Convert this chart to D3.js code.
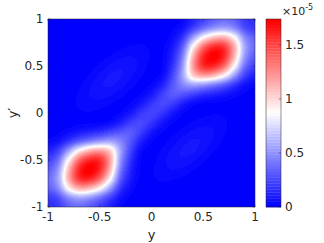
<!DOCTYPE html>
<html><head><meta charset="utf-8">
<script src="https://cdn.jsdelivr.net/npm/d3@7"></script>
<style>html,body{margin:0;padding:0;background:#fff;} svg{display:block;}</style>
</head><body>
<script>
// grid coordinates (y along columns, y' along rows)
const gridY = [-1,-0.9,-0.8,-0.7,-0.6,-0.5,-0.4,-0.3,-0.2,-0.1,0,0.1,0.2,0.3,0.4,0.5,0.6,0.7,0.8,0.9,1];
const gridYp = [-1,-0.9,-0.8,-0.7,-0.6,-0.5,-0.4,-0.3,-0.2,-0.1,0,0.1,0.2,0.3,0.4,0.5,0.6,0.7,0.8,0.9,1];
// values (x 1e-5), rows: y' = -1 ... 1, columns: y = -1 ... 1
const rho = [
[.157,.202,.331,.372,.316,.225,.122,.038,.010,.003,.002,.001,.001,0,0,0,0,0,0,0,0],
[.202,.278,.486,.580,.525,.398,.229,.075,.021,.007,.006,.006,.004,.002,.001,0,0,0,0,0,0],
[.331,.486,.902,1.146,1.105,.892,.547,.190,.053,.013,.014,.016,.012,.007,.003,.001,0,0,0,0,0],
[.372,.580,1.146,1.551,1.592,1.368,.892,.329,.094,.019,.023,.032,.031,.022,.011,.004,.001,0,0,0,0],
[.316,.525,1.105,1.592,1.74,1.592,1.112,.439,.132,.022,.025,.044,.055,.048,.030,.013,.004,.001,0,0,0],
[.225,.398,.892,1.368,1.592,1.571,1.185,.522,.171,.026,.019,.043,.068,.077,.060,.034,.013,.004,.001,0,0],
[.122,.229,.547,.892,1.112,1.185,1.022,.557,.233,.047,.016,.030,.060,.085,.086,.060,.030,.011,.003,.001,0],
[.038,.075,.190,.329,.439,.522,.557,.459,.293,.116,.032,.019,.038,.068,.085,.077,.048,.022,.007,.002,0],
[.010,.021,.053,.094,.132,.171,.233,.293,.315,.214,.093,.031,.020,.038,.060,.068,.055,.031,.012,.004,.001],
[.003,.007,.013,.019,.022,.026,.047,.116,.214,.250,.191,.090,.031,.019,.030,.043,.044,.032,.016,.006,.001],
[.002,.006,.014,.023,.025,.019,.016,.032,.093,.191,.240,.191,.093,.032,.016,.019,.025,.023,.014,.006,.002],
[.001,.006,.016,.032,.044,.043,.030,.019,.031,.090,.191,.250,.214,.116,.047,.026,.022,.019,.013,.007,.003],
[.001,.004,.012,.031,.055,.068,.060,.038,.020,.031,.093,.214,.315,.293,.233,.171,.132,.094,.053,.021,.010],
[0,.002,.007,.022,.048,.077,.085,.068,.038,.019,.032,.116,.293,.459,.557,.522,.439,.329,.190,.075,.038],
[0,.001,.003,.011,.030,.060,.086,.085,.060,.030,.016,.047,.233,.557,1.022,1.185,1.112,.892,.547,.229,.122],
[0,0,.001,.004,.013,.034,.060,.077,.068,.043,.019,.026,.171,.522,1.185,1.571,1.592,1.368,.892,.398,.225],
[0,0,0,.001,.004,.013,.030,.048,.055,.044,.025,.022,.132,.439,1.112,1.592,1.74,1.592,1.105,.525,.316],
[0,0,0,0,.001,.004,.011,.022,.031,.032,.023,.019,.094,.329,.892,1.368,1.592,1.551,1.146,.580,.372],
[0,0,0,0,0,.001,.003,.007,.012,.016,.014,.013,.053,.190,.547,.892,1.105,1.146,.902,.486,.331],
[0,0,0,0,0,0,.001,.002,.004,.006,.006,.007,.021,.075,.229,.398,.525,.580,.486,.278,.202],
[0,0,0,0,0,0,0,0,.001,.001,.002,.003,.010,.038,.122,.225,.316,.372,.331,.202,.157]
];
const xTicks = [-1,-0.5,0,0.5,1];
const yTicks = [-1,-0.5,0,0.5,1];
const cbTicks = [0,0.5,1,1.5];
const cMin = 0, cMax = 1.74;
const nLevels = 64;

const W = 324, H = 243;
const m = {l:48, t:19, w:207, h:188};
const textCol = "#262626";
const font = "DejaVu Sans";

const x = d3.scaleLinear().domain([-1,1]).range([m.l, m.l+m.w]);
const y = d3.scaleLinear().domain([-1,1]).range([m.t+m.h, m.t]);
const gx = d3.scaleLinear().domain(d3.extent(gridY)).range([0, gridY.length-1]);
const gy = d3.scaleLinear().domain(d3.extent(gridYp)).range([0, gridYp.length-1]);
const cmap = d3.scaleLinear().domain([0,0.5,1]).range(["#0000ff","#ffffff","#ff0000"]);
const levelColors = d3.range(nLevels).map(k => d3.rgb(cmap(k/(nLevels-1))));
const level = d3.scaleQuantize().domain([cMin,cMax]).range(d3.range(nLevels));
function colorOf(v){ v = Math.max(cMin, Math.min(cMax - 1e-9, v)); return levelColors[level(v)]; }

function cr(p0,p1,p2,p3,t){ return p1 + 0.5*t*(p2-p0 + t*(2*p0-5*p1+4*p2-p3 + t*(3*(p1-p2)+p3-p0))); }
function sample(u,v){
  const nx = gridY.length, ny = gridYp.length;
  const ix = Math.min(nx-2, Math.floor(u)), iy = Math.min(ny-2, Math.floor(v));
  const tx = u-ix, ty = v-iy;
  const g = (i,j) => rho[Math.max(0,Math.min(ny-1,j))][Math.max(0,Math.min(nx-1,i))];
  const r = [];
  for (let dj=-1; dj<=2; dj++) r.push(cr(g(ix-1,iy+dj),g(ix,iy+dj),g(ix+1,iy+dj),g(ix+2,iy+dj),tx));
  return cr(r[0],r[1],r[2],r[3],ty);
}

// heatmap raster
const cv = document.createElement("canvas");
cv.width = m.w; cv.height = m.h;
const ctx = cv.getContext("2d");
const img = ctx.createImageData(m.w, m.h);
for (let py=0; py<m.h; py++){
  const dv = y.invert(m.t+py+0.5);
  for (let px=0; px<m.w; px++){
    const du = x.invert(m.l+px+0.5);
    const c = colorOf(sample(gx(du), gy(dv)));
    const o = (py*m.w+px)*4;
    img.data[o]=c.r; img.data[o+1]=c.g; img.data[o+2]=c.b; img.data[o+3]=255;
  }
}
ctx.putImageData(img,0,0);

const svg = d3.select("body").append("svg").attr("width",W).attr("height",H)
  .style("font-family", font);

svg.append("image").attr("x",m.l).attr("y",m.t).attr("width",m.w).attr("height",m.h)
  .attr("preserveAspectRatio","none").attr("href", cv.toDataURL());

// box + ticks (inside, all sides)
const tl = 2.2;
const ax = svg.append("g").attr("stroke", textCol).attr("stroke-width", 0.5).attr("fill","none");
ax.append("rect").attr("x",m.l).attr("y",m.t).attr("width",m.w).attr("height",m.h);
xTicks.forEach(t => {
  ax.append("line").attr("x1",x(t)).attr("x2",x(t)).attr("y1",m.t+m.h).attr("y2",m.t+m.h-tl);
  ax.append("line").attr("x1",x(t)).attr("x2",x(t)).attr("y1",m.t).attr("y2",m.t+tl);
});
yTicks.forEach(t => {
  ax.append("line").attr("y1",y(t)).attr("y2",y(t)).attr("x1",m.l).attr("x2",m.l+tl);
  ax.append("line").attr("y1",y(t)).attr("y2",y(t)).attr("x1",m.l+m.w).attr("x2",m.l+m.w-tl);
});

const fmt = d => String(d);
svg.append("g").selectAll("text").data(xTicks).join("text")
  .attr("x", d=>x(d)).attr("y", 220.5).attr("text-anchor","middle")
  .attr("font-size",12).attr("fill",textCol).text(fmt);
svg.append("g").selectAll("text").data(yTicks).join("text")
  .attr("x", 43.5).attr("y", d=>y(d)).attr("dy","0.35em").attr("text-anchor","end")
  .attr("font-size",12).attr("fill",textCol).text(fmt);

svg.append("text").attr("x", x(0)).attr("y", 239).attr("text-anchor","middle")
  .attr("font-size",13).attr("fill",textCol).text("y");
svg.append("text").attr("transform", `translate(16.5,${y(0)}) rotate(-90)`).attr("text-anchor","middle")
  .attr("font-size",13).attr("fill",textCol).text("y\u2032");

// colorbar
const cb = {l:266, w:15};
const cy = d3.scaleLinear().domain([cMin,cMax]).range([m.t+m.h, m.t]);
const step = (cMax-cMin)/nLevels;
svg.append("g").selectAll("rect").data(d3.range(nLevels)).join("rect")
  .attr("x", cb.l).attr("width", cb.w)
  .attr("y", k => cy(cMin+(k+1)*step)).attr("height", k => cy(cMin+k*step)-cy(cMin+(k+1)*step)+0.3)
  .attr("fill", k => levelColors[k]);
const cax = svg.append("g").attr("stroke", textCol).attr("stroke-width",0.5).attr("fill","none");
cax.append("rect").attr("x",cb.l).attr("y",m.t).attr("width",cb.w).attr("height",m.h);
cbTicks.forEach(t => {
  cax.append("line").attr("x1",cb.l+cb.w).attr("x2",cb.l+cb.w-tl).attr("y1",cy(t)).attr("y2",cy(t));
});
svg.append("g").selectAll("text").data(cbTicks).join("text")
  .attr("x", 285).attr("y", d=>cy(d)).attr("dy","0.35em").attr("text-anchor","start")
  .attr("font-size",12).attr("fill",textCol).text(fmt);
const ex = svg.append("text").attr("x",282).attr("y",15).attr("font-size",11).attr("fill",textCol);
ex.append("tspan").text("\u00d710");
ex.append("tspan").attr("dy",-5.5).attr("font-size",8).text("-5");
</script>
</body></html>
